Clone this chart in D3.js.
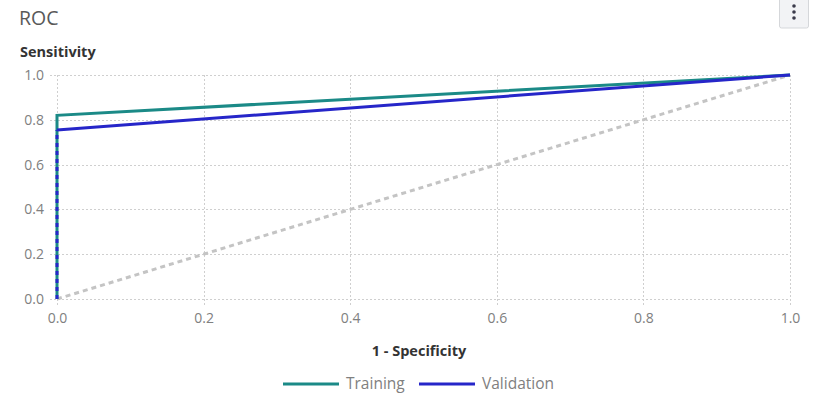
<!DOCTYPE html>
<html><head><meta charset="utf-8">
<script src="https://cdn.jsdelivr.net/npm/d3@7"></script>
<style>body{margin:0;background:#fff;font-family:"Open Sans",sans-serif;}</style>
</head><body>
<svg id="c" width="816" height="401"></svg>
<script>
const seriesNames = ["Training", "Validation"];
const trainingFPR = [0, 0, 1];
const trainingTPR = [0, 0.82, 1];
const validationFPR = [0, 0, 1];
const validationTPR = [0, 0.755, 1];
const baselineFPR = [0, 1];
const baselineTPR = [0, 1];
const xTicks = [0, 0.2, 0.4, 0.6, 0.8, 1.0];
const yTicks = [0, 0.2, 0.4, 0.6, 0.8, 1.0];
const colors = ["#1b8a87", "#2626c9"];
const F = "'Open Sans',sans-serif";

const svg = d3.select("#c");
const x = d3.scaleLinear().domain([0, 1]).range([57, 790]);
const y = d3.scaleLinear().domain([0, 1]).range([299, 75]);

svg.append("text").attr("x", 19).attr("y", 25).attr("font-size", 19.5).attr("fill", "#595959").attr("font-family", F).text("ROC");
// menu button
const btn = svg.append("g");
btn.append("rect").attr("x", 779.5).attr("y", -2).attr("width", 29).attr("height", 30).attr("rx", 2)
  .attr("fill", "#f2f3f5").attr("stroke", "#d5d7da");
[6, 12, 18].forEach(cy => btn.append("circle").attr("cx", 794).attr("cy", cy).attr("r", 1.8).attr("fill", "#3a3a4a"));

svg.append("text").attr("x", 20).attr("y", 57).attr("font-size", 14.5).attr("font-weight", "bold").attr("fill", "#333")
  .attr("font-family", F).text("Sensitivity");

// grid
const grid = svg.append("g").attr("stroke", "#cfcfcf").attr("stroke-dasharray", "2,2").attr("stroke-width", 1);
yTicks.forEach(t => grid.append("line").attr("x1", 50).attr("x2", x(1)).attr("y1", Math.round(y(t)) + 0.5).attr("y2", Math.round(y(t)) + 0.5));
xTicks.forEach(t => grid.append("line").attr("x1", Math.round(x(t)) + 0.5).attr("x2", Math.round(x(t)) + 0.5).attr("y1", y(1)).attr("y2", 306));

const yAxis = svg.append("g").attr("transform", "translate(50,0)")
  .call(d3.axisLeft(y).tickValues(yTicks).tickFormat(d3.format(".1f")).tickSize(0).tickPadding(6));
yAxis.select(".domain").remove();
yAxis.selectAll("text").attr("font-size", 14).attr("fill", "#808080").attr("font-family", F);
const xAxis = svg.append("g").attr("transform", "translate(0,308)")
  .call(d3.axisBottom(x).tickValues(xTicks).tickFormat(d3.format(".1f")).tickSize(0).tickPadding(5));
xAxis.select(".domain").remove();
xAxis.selectAll("text").attr("font-size", 14).attr("fill", "#808080").attr("font-family", F);

svg.append("text").attr("x", 419).attr("y", 356).attr("text-anchor", "middle").attr("font-size", 14.5)
  .attr("font-weight", "bold").attr("fill", "#333").attr("font-family", F).text("1 - Specificity");

const line = d3.line().x(d => x(d[0])).y(d => y(d[1]));
svg.append("path").datum(d3.zip(baselineFPR, baselineTPR)).attr("d", line).attr("fill", "none")
  .attr("stroke", "#c4c4c4").attr("stroke-width", 3).attr("stroke-dasharray", "5,4");
const tr = d3.zip(trainingFPR, trainingTPR);
const va = d3.zip(validationFPR, validationTPR);
svg.append("path").datum(tr).attr("d", line).attr("fill", "none").attr("stroke", colors[0]).attr("stroke-width", 3);
svg.append("path").datum(va.slice(1)).attr("d", line).attr("fill", "none").attr("stroke", colors[1]).attr("stroke-width", 3);
svg.append("path").datum(va.slice(0, 2)).attr("d", line).attr("fill", "none").attr("stroke", colors[1])
  .attr("stroke-width", 3).attr("stroke-dasharray", "4,4");

// legend
const legX = [283, 419];
seriesNames.forEach((n, i) => {
  svg.append("line").attr("x1", legX[i]).attr("x2", legX[i] + 56).attr("y1", 384).attr("y2", 384)
    .attr("stroke", colors[i]).attr("stroke-width", 3);
  svg.append("text").attr("x", legX[i] + 63).attr("y", 389).attr("font-size", 15.5).attr("fill", "#808080")
    .attr("font-family", F).text(n);
});
</script>
</body></html>
